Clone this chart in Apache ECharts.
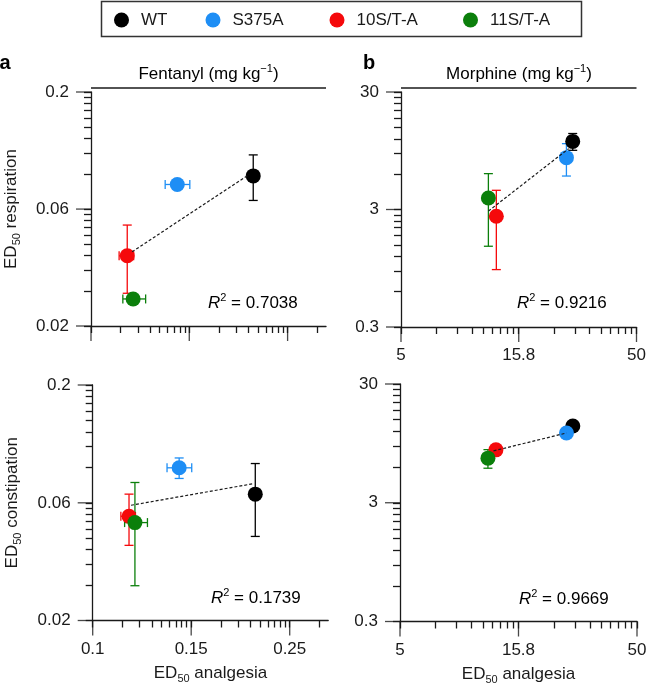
<!DOCTYPE html>
<html>
<head>
<meta charset="utf-8">
<script src="https://cdn.jsdelivr.net/npm/echarts@6/dist/echarts.min.js"></script>
<style>
  html, body { margin: 0; padding: 0; background: #fff; }
  #chart { width: 648px; height: 685px; }
</style>
</head>
<body>
<div id="chart"></div>
<script>
const genotypes = ['WT', 'S375A', '10S/T-A', '11S/T-A'];

// fentanyl ED50 (mg/kg): value, lower, upper
const fentAnalgesia = [0.213, 0.1495, 0.1184, 0.1217];
const fentAnalgesiaLow = [0.209, 0.1413, 0.114, 0.116];
const fentAnalgesiaHigh = [0.217, 0.1585, 0.122, 0.129];
const fentRespiration = [0.0876, 0.0805, 0.0399, 0.0261];
const fentRespirationLow = [0.0688, 0.0785, 0.0276, 0.0253];
const fentRespirationHigh = [0.1077, 0.0825, 0.054, 0.0269];
const fentConstipation = [0.0688, 0.089, 0.0554, 0.0521];
const fentConstipationLow = [0.0455, 0.0802, 0.0417, 0.0281];
const fentConstipationHigh = [0.0928, 0.098, 0.0688, 0.0771];

// morphine ED50 (mg/kg)
const morphAnalgesia = [26.8, 25.2, 12.7, 11.75];
const morphAnalgesiaLow = [26.2, 24.6, 12.4, 11.5];
const morphAnalgesiaHigh = [27.4, 25.8, 13.0, 12.0];
const morphRespiration = [11.4, 8.29, 2.63, 3.76];
const morphRespirationLow = [9.57, 5.78, 0.924, 1.46];
const morphRespirationHigh = [13.3, 10.9, 4.37, 6.06];
const morphConstipation = [13.3, 11.6, 8.37, 7.12];
const morphConstipationLow = [12.8, 11.1, 8.0, 5.86];
const morphConstipationHigh = [13.8, 12.1, 8.75, 8.4];

// dashed fit lines, end points [x, y]
const fitFentResp = [[0.1211, 0.0415], [0.209, 0.0888]];
const fitMorphResp = [[11.76, 2.91], [25.76, 9.89]];
const fitFentConst = [[0.1195, 0.0617], [0.2118, 0.0763]];
const fitMorphConst = [[12.4, 8.2], [25.2, 11.6]];

const r2Labels = ['0.7038', '0.9216', '0.1739', '0.9669'];

// axis ticks (log axes, labelled at geometric steps)
const fentXTicks = [0.1, 0.1581, 0.25];
const fentXTickLabels = ['0.1', '0.15', '0.25'];
const fentXMax = 0.299;
const fentYTicks = [0.02, 0.0632, 0.2];
const fentYTickLabels = ['0.02', '0.06', '0.2'];
const morphXTicks = [5, 15.81, 50];
const morphXTickLabels = ['5', '15.8', '50'];
const morphYTicks = [0.3, 3, 30];
const morphYTickLabels = ['0.3', '3', '30'];

const FONT = 'Liberation Sans, Arial, Helvetica, sans-serif';
const INK = '#1a1a1a';
const colors = ['#000000', '#1e8ef5', '#f5090b', '#0b7f0b'];
const L = v => Math.log(v) / Math.LN10;
const minorSteps = [2, 3, 4, 5, 6, 7, 8, 9];

const richText = {
  n: { fontSize: 17, lineHeight: 22, fontFamily: FONT, color: INK },
  i: { fontSize: 17, lineHeight: 22, fontFamily: FONT, color: INK, fontStyle: 'italic' },
  sup: { fontSize: 11, lineHeight: 11, fontFamily: FONT, color: INK, verticalAlign: 'top' },
  sub: { fontSize: 11, lineHeight: 11, fontFamily: FONT, color: INK, verticalAlign: 'bottom' }
};

// log-decade style minor ticks inside every labelled step (log10 values)
function minorTicks(majors, max) {
  const out = [];
  const lmax = L(max) - 0.0005;
  majors.forEach((a, i) => {
    const step = i + 1 < majors.length ? L(majors[i + 1]) - L(a) : L(a) - L(majors[i - 1]);
    minorSteps.forEach(k => {
      const lv = L(a) + step * L(k);
      if (lv < lmax) out.push(lv);
    });
  });
  return out;
}

function labelFor(ticks, labels, v) {
  const idx = ticks.findIndex(t => Math.abs(L(t) - v) < 1e-4);
  return idx >= 0 ? labels[idx] : '';
}

const panels = [
  { grid: { left: 91, top: 92, width: 235, height: 234 },
    x: [fentAnalgesia, fentAnalgesiaLow, fentAnalgesiaHigh],
    y: [fentRespiration, fentRespirationLow, fentRespirationHigh],
    fit: fitFentResp, xTicks: fentXTicks, xLabels: fentXTickLabels, xMax: fentXMax,
    yTicks: fentYTicks, yLabels: fentYTickLabels, showX: false,
    yName: '{n|ED}{sub|50}{n| respiration}', xName: '', r2: r2Labels[0], r2Pos: [208, 303] },
  { grid: { left: 401, top: 92, width: 235.5, height: 235 },
    x: [morphAnalgesia, morphAnalgesiaLow, morphAnalgesiaHigh],
    y: [morphRespiration, morphRespirationLow, morphRespirationHigh],
    fit: fitMorphResp, xTicks: morphXTicks, xLabels: morphXTickLabels, xMax: 50,
    yTicks: morphYTicks, yLabels: morphYTickLabels, showX: true,
    yName: '', xName: '', r2: r2Labels[1], r2Pos: [517, 303] },
  { grid: { left: 92.7, top: 385, width: 235.5, height: 235.5 },
    x: [fentAnalgesia, fentAnalgesiaLow, fentAnalgesiaHigh],
    y: [fentConstipation, fentConstipationLow, fentConstipationHigh],
    fit: fitFentConst, xTicks: fentXTicks, xLabels: fentXTickLabels, xMax: fentXMax,
    yTicks: fentYTicks, yLabels: fentYTickLabels, showX: true,
    yName: '{n|ED}{sub|50}{n| constipation}', xName: '{n|ED}{sub|50}{n| analgesia}',
    r2: r2Labels[2], r2Pos: [211, 598] },
  { grid: { left: 400, top: 384, width: 237, height: 237.5 },
    x: [morphAnalgesia, morphAnalgesiaLow, morphAnalgesiaHigh],
    y: [morphConstipation, morphConstipationLow, morphConstipationHigh],
    fit: fitMorphConst, xTicks: morphXTicks, xLabels: morphXTickLabels, xMax: 50,
    yTicks: morphYTicks, yLabels: morphYTickLabels, showX: true,
    yName: '', xName: '{n|ED}{sub|50}{n| analgesia}', r2: r2Labels[3], r2Pos: [519, 599] }
];

const grids = [];
const xAxes = [];
const yAxes = [];
const series = [];
const lineStyle = { color: INK, width: 1.3 };
const labelStyle = { color: INK, fontSize: 17, fontFamily: FONT };

panels.forEach((p, i) => {
  grids.push(Object.assign({ outerBoundsMode: 'none', containLabel: false }, p.grid));
  const xMin = L(p.xTicks[0]), xMax = L(p.xMax);
  const yMin = L(p.yTicks[0]), yMax = L(p.yTicks[p.yTicks.length - 1]);
  const xMajor = p.xTicks.map(L);
  const yMajor = p.yTicks.map(L);
  const xAll = xMajor.concat(minorTicks(p.xTicks, p.xMax)).sort((a, b) => a - b);
  const yAll = yMajor.concat(minorTicks(p.yTicks, p.yTicks[p.yTicks.length - 1])).sort((a, b) => a - b);

  // every tick drawn short by the axis; the labelled ones get lengthened below
  xAxes.push({
    type: 'value', gridIndex: i, position: 'bottom', min: xMin, max: xMax,
    axisLine: { show: true, onZero: false, lineStyle },
    axisTick: { show: true, customValues: xAll, length: 7, lineStyle },
    axisLabel: Object.assign({ show: p.showX, customValues: xMajor, margin: 20,
      formatter: v => labelFor(p.xTicks, p.xLabels, v) }, labelStyle),
    splitLine: { show: false },
    name: p.xName, nameLocation: 'middle', nameGap: 42,
    nameTextStyle: { rich: richText }
  });
  yAxes.push({
    type: 'value', gridIndex: i, position: 'left', min: yMin, max: yMax,
    axisLine: { show: true, onZero: false, lineStyle },
    axisTick: { show: true, customValues: yAll, length: 7, lineStyle },
    axisLabel: Object.assign({ customValues: yMajor, margin: 22,
      formatter: v => labelFor(p.yTicks, p.yLabels, v) }, labelStyle),
    splitLine: { show: false },
    name: p.yName, nameLocation: 'middle', nameGap: 69, nameRotate: 90,
    nameTextStyle: { rich: richText }
  });

  // long major ticks, as thin bars hanging off the axis lines
  series.push({
    type: 'scatter', xAxisIndex: i, yAxisIndex: i, silent: true, clip: false, z: 1,
    data: xMajor.map(v => [v, yMin]),
    symbol: 'rect', symbolSize: [1.3, 15], symbolOffset: [0, 7.5],
    itemStyle: { color: INK }
  });
  series.push({
    type: 'scatter', xAxisIndex: i, yAxisIndex: i, silent: true, clip: false, z: 1,
    data: yMajor.map(v => [xMin, v]),
    symbol: 'rect', symbolSize: [15, 1.3], symbolOffset: [-7.5, 0],
    itemStyle: { color: INK }
  });

  // dashed fit line
  series.push({
    type: 'line', xAxisIndex: i, yAxisIndex: i, silent: true,
    data: p.fit.map(d => [L(d[0]), L(d[1])]),
    symbol: 'none', lineStyle: { color: INK, width: 1.2, type: [3, 2] }
  });

  genotypes.forEach((gName, k) => {
    const [xv, xl, xh] = p.x;
    const [yv, yl, yh] = p.y;
    series.push({
      type: 'custom', name: gName + ' error', xAxisIndex: i, yAxisIndex: i, silent: true,
      encode: { x: 0, y: 1 },
      data: [[L(xv[k]), L(yv[k]), L(xl[k]), L(xh[k]), L(yl[k]), L(yh[k])]],
      renderItem: (params, api) => {
        const c = api.coord([api.value(0), api.value(1)]);
        const left = api.coord([api.value(2), api.value(1)]);
        const right = api.coord([api.value(3), api.value(1)]);
        const low = api.coord([api.value(0), api.value(4)]);
        const high = api.coord([api.value(0), api.value(5)]);
        const cap = 4.5;
        const st = { stroke: colors[k], lineWidth: 1.3 };
        const seg = (x1, y1, x2, y2) => ({ type: 'line', shape: { x1, y1, x2, y2 }, style: st });
        return {
          type: 'group',
          children: [
            seg(c[0], low[1], c[0], high[1]),
            seg(c[0] - cap, low[1], c[0] + cap, low[1]),
            seg(c[0] - cap, high[1], c[0] + cap, high[1]),
            seg(left[0], c[1], right[0], c[1]),
            seg(left[0], c[1] - cap, left[0], c[1] + cap),
            seg(right[0], c[1] - cap, right[0], c[1] + cap)
          ]
        };
      }
    });
    series.push({
      type: 'scatter', name: gName, xAxisIndex: i, yAxisIndex: i, silent: true,
      data: [[L(xv[k]), L(yv[k])]],
      symbol: 'circle', symbolSize: 15,
      itemStyle: { color: colors[k], opacity: 1 }
    });
  });
});

const graphics = [
  { type: 'rect', shape: { x: 101.5, y: 1.5, width: 480, height: 35 }, style: { fill: null, stroke: '#333', lineWidth: 1.5 } },
  { type: 'text', x: 5, y: 63, style: { text: 'a', font: 'bold 20px ' + FONT, fill: '#000', align: 'center', verticalAlign: 'middle' } },
  { type: 'text', x: 369, y: 63, style: { text: 'b', font: 'bold 20px ' + FONT, fill: '#000', align: 'center', verticalAlign: 'middle' } },
  { type: 'text', x: 208.5, y: 74, style: { text: '{n|Fentanyl (mg kg}{sup|−1}{n|)}', rich: richText, align: 'center', verticalAlign: 'middle' } },
  { type: 'text', x: 519, y: 74, style: { text: '{n|Morphine (mg kg}{sup|−1}{n|)}', rich: richText, align: 'center', verticalAlign: 'middle' } },
  { type: 'line', shape: { x1: 91, y1: 88, x2: 326, y2: 88 }, style: { stroke: INK, lineWidth: 1.3 } },
  { type: 'line', shape: { x1: 401, y1: 88, x2: 636.5, y2: 88 }, style: { stroke: INK, lineWidth: 1.3 } }
];
panels.forEach(p => {
  graphics.push({
    type: 'text', x: p.r2Pos[0], y: p.r2Pos[1],
    style: { text: '{i|R}{sup|2}{n| = ' + p.r2 + '}', rich: richText, align: 'left', verticalAlign: 'middle' }
  });
});

// one legend per genotype, placed like the reference entries
const legendLeft = [114, 205.5, 329.5, 463];
const legends = genotypes.map((g, k) => ({
  data: [g], left: legendLeft[k], top: 11.5, padding: 0,
  icon: 'circle', itemWidth: 15, itemHeight: 15,
  textStyle: { fontSize: 17, color: INK, fontFamily: FONT, padding: [0, 0, 0, 7] },
  selectedMode: false
}));

const chart = echarts.init(document.getElementById('chart'), null, { renderer: 'canvas' });
chart.setOption({
  animation: false,
  backgroundColor: '#fff',
  textStyle: { fontFamily: FONT },
  legend: legends,
  grid: grids,
  xAxis: xAxes,
  yAxis: yAxes,
  series,
  graphic: graphics
});
</script>
</body>
</html>
